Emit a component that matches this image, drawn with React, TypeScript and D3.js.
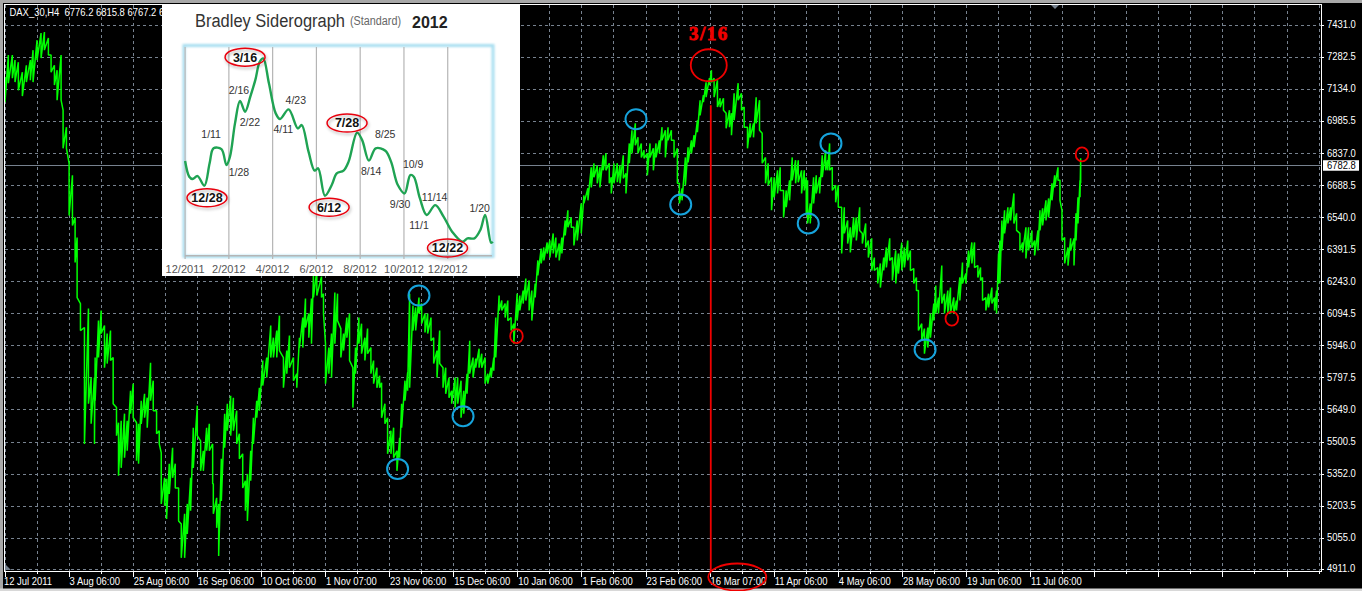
import * as d3 from 'd3';

const WIDTH = 1362;
const HEIGHT = 591;

// MT4 chart: bar number since 12 Jul 2011, high and low of each sampled stretch
const bars = [
  0, 5, 11, 15, 20, 26, 32, 38, 42, 48, 54, 59, 65, 69, 74, 78, 84, 87, 92, 96,
  101, 105, 108, 113, 119, 125, 129, 134, 135, 140, 144, 149, 153, 158, 162, 167, 170, 174, 179, 183,
  188, 192, 197, 200, 204, 209, 213, 218, 222, 227, 231, 234, 239, 242, 246, 251, 255, 260, 264, 269,
  273, 278, 282, 288, 293, 297, 302, 306, 311, 312, 317, 320, 324, 329, 333, 338, 342, 347, 351, 356,
  360, 363, 368, 372, 377, 381, 386, 392, 398, 402, 407, 411, 417, 422, 426, 432, 437, 441, 446, 450,
  455, 459, 462, 467, 474, 477, 480, 485, 489, 494, 498, 503, 507, 512, 516, 521, 525, 530, 534, 539,
  543, 548, 552, 557, 561, 564, 569, 573, 578, 582, 587, 591, 594, 599, 603, 606, 611, 615, 620, 624,
  629, 633, 638, 642, 647, 651, 656, 660, 665, 669, 674, 678, 683, 687, 692, 696, 701, 705, 710, 714,
  719, 723, 728, 732, 735, 740, 744, 749, 753, 758, 762, 767, 771, 776, 780, 785, 789, 794, 798, 803,
  807, 812, 816, 821, 825, 830, 834, 839, 843, 848, 852, 857, 863, 867, 873, 878, 882, 887, 891, 896,
  900, 905, 908, 912, 917, 921, 926, 930, 935, 939, 944, 948, 953, 957, 962, 966, 971, 975, 980, 984,
  989, 993, 998, 1002, 1007, 1010, 1014, 1019, 1023, 1028, 1032, 1037, 1041, 1046, 1050, 1055, 1058, 1062, 1067, 1071,
  1076, 1080, 1085, 1088, 1092, 1098, 1103, 1107, 1112, 1116, 1121, 1125, 1130, 1134, 1139, 1143, 1148, 1152, 1157, 1161,
  1166, 1170, 1175, 1179, 1184, 1188, 1193, 1197, 1200, 1202, 1206, 1211, 1215, 1220, 1224, 1229, 1232, 1235, 1239, 1244,
  1248, 1253, 1257, 1262, 1266, 1271, 1275, 1280, 1284, 1289, 1293, 1298, 1302, 1307, 1311, 1316, 1320, 1325, 1329, 1334,
  1338, 1343, 1347, 1352, 1356, 1361, 1365, 1368, 1373, 1377, 1382, 1386, 1391, 1394, 1398, 1403, 1407, 1412, 1416, 1421,
  1425, 1430, 1434, 1439, 1443, 1448, 1452, 1457, 1461, 1464, 1469, 1473, 1478, 1482, 1485, 1488, 1490, 1493, 1497, 1502,
  1506, 1511, 1515, 1520, 1524, 1529, 1533, 1538, 1542, 1547, 1550, 1554, 1559, 1563, 1568, 1572, 1577, 1580, 1583, 1587,
  1592, 1596, 1601, 1604, 1607, 1610, 1611,
];

const highs = [
  7191, 7293, 7293, 7270, 7260, 7214, 7246, 7270, 7316, 7362, 7395, 7400, 7372, 7293, 7246, 7223, 7293, 7038, 6959, 6792,
  6736, 6541, 6448, 6142, 6031, 6119, 5799, 5799, 5892, 6063, 6110, 6040, 6003, 6017, 5892, 5660, 5590, 5599, 5632, 5599,
  5738, 5771, 5590, 5585, 5692, 5724, 5706, 5868, 5785, 5646, 5553, 5451, 5335, 5330, 5400, 5474, 5400, 5288, 5121, 5168,
  5214, 5335, 5567, 5669, 5506, 5460, 5567, 5585, 5492, 5307, 5242, 5214, 5423, 5632, 5678, 5715, 5706, 5646, 5539, 5446,
  5321, 5353, 5460, 5613, 5692, 5752, 5878, 5892, 6040, 5984, 6017, 6086, 5892, 5924, 5994, 5892, 5817, 5984, 6077, 6165,
  6096, 6165, 6281, 6295, 6267, 6188, 5956, 5938, 6003, 6193, 6188, 6026, 6003, 6077, 6096, 5845, 5938, 6077, 6049, 5984,
  6026, 5938, 5878, 5845, 5808, 5775, 5678, 5613, 5553, 5567, 5460, 5520, 5678, 5785, 5822, 6188, 6133, 6124, 6170, 6142,
  6096, 6096, 6077, 5984, 5924, 6017, 5845, 5845, 5799, 5738, 5799, 5799, 5785, 5738, 5817, 5970, 5892, 5887, 5933, 5910,
  5892, 5817, 5845, 5892, 6077, 6179, 6156, 6142, 6156, 6077, 6049, 6188, 6179, 6202, 6258, 6249, 6202, 6235, 6342, 6397,
  6402, 6425, 6434, 6467, 6448, 6420, 6448, 6527, 6574, 6541, 6495, 6527, 6606, 6643, 6676, 6773, 6792, 6782, 6773, 6829,
  6838, 6792, 6727, 6792, 6792, 6782, 6829, 6745, 6884, 6945, 6977, 6912, 6884, 6852, 6838, 6884, 6861, 6884, 6898, 6959,
  6945, 6959, 6945, 6898, 6861, 6699, 6676, 6819, 6866, 6898, 6922, 6991, 7084, 7107, 7167, 7186, 7223, 7186, 7177, 7093,
  7093, 7024, 7038, 7024, 7116, 7163, 7116, 7052, 6959, 6977, 6977, 7098, 7084, 6931, 6819, 6792, 6727, 6727, 6759, 6773,
  6666, 6666, 6713, 6819, 6806, 6806, 6759, 6759, 6727, 6713, 6606, 6727, 6736, 6727, 6829, 6852, 6806, 6884, 6773, 6690,
  6690, 6588, 6588, 6527, 6495, 6541, 6541, 6588, 6467, 6513, 6434, 6444, 6355, 6309, 6328, 6355, 6402, 6444, 6355, 6388,
  6374, 6425, 6402, 6434, 6388, 6304, 6263, 6202, 6049, 6026, 6031, 6096, 6142, 6226, 6170, 6318, 6188, 6202, 6216, 6170,
  6156, 6263, 6332, 6281, 6388, 6425, 6425, 6318, 6309, 6263, 6170, 6188, 6216, 6170, 6202, 6374, 6434, 6527, 6574, 6588,
  6588, 6652, 6560, 6467, 6425, 6495, 6495, 6481, 6434, 6481, 6574, 6583, 6620, 6629, 6699, 6736, 6773, 6713, 6574, 6448,
  6402, 6444, 6444, 6560, 6634, 6713, 6815,
];

const lows = [
  7075, 7163, 7186, 7168, 7130, 7103, 7168, 7177, 7168, 7270, 7279, 7316, 7293, 7214, 7154, 7084, 7084, 6861, 6861, 6550,
  6504, 6332, 6170, 6017, 5492, 5678, 5585, 5492, 5692, 5892, 6003, 5845, 5864, 5878, 5678, 5530, 5344, 5381, 5428, 5460,
  5632, 5613, 5414, 5400, 5585, 5613, 5567, 5692, 5646, 5539, 5492, 5214, 5205, 5144, 5260, 5335, 5288, 5135, 4964, 4964,
  5075, 5182, 5381, 5530, 5367, 5367, 5460, 5460, 5307, 5168, 5103, 4973, 5228, 5474, 5553, 5530, 5553, 5492, 5423, 5288,
  5182, 5135, 5321, 5492, 5613, 5646, 5762, 5799, 5892, 5892, 5892, 5924, 5752, 5817, 5845, 5785, 5752, 5938, 5938, 6031,
  5984, 5956, 6170, 6179, 6170, 6096, 5771, 5817, 5799, 5956, 6063, 5892, 5924, 5984, 5878, 5660, 5817, 5956, 5910, 5878,
  5910, 5817, 5771, 5752, 5752, 5613, 5585, 5446, 5446, 5428, 5367, 5428, 5567, 5692, 5738, 5752, 6017, 6017, 6096, 6049,
  6008, 6003, 5970, 5864, 5799, 5864, 5752, 5724, 5706, 5678, 5660, 5678, 5613, 5632, 5724, 5817, 5799, 5845, 5845, 5845,
  5771, 5771, 5799, 5831, 5892, 6110, 6110, 6077, 6063, 6017, 5956, 6063, 6110, 6142, 6156, 6110, 6063, 6170, 6272, 6328,
  6342, 6374, 6355, 6374, 6355, 6342, 6374, 6458, 6495, 6495, 6411, 6434, 6467, 6606, 6620, 6680, 6727, 6699, 6680, 6759,
  6759, 6699, 6652, 6699, 6704, 6699, 6722, 6652, 6792, 6838, 6875, 6838, 6819, 6815, 6736, 6819, 6759, 6819, 6838, 6898,
  6819, 6898, 6898, 6819, 6699, 6606, 6620, 6690, 6796, 6838, 6866, 6936, 7014, 7075, 7098, 7154, 7167, 7098, 7052, 7052,
  7038, 6954, 6959, 6922, 6991, 7084, 7038, 6959, 6861, 6912, 6912, 6977, 6945, 6792, 6699, 6690, 6574, 6634, 6652, 6666,
  6541, 6588, 6620, 6713, 6699, 6704, 6652, 6666, 6560, 6513, 6513, 6606, 6652, 6652, 6727, 6759, 6759, 6759, 6666, 6611,
  6588, 6374, 6467, 6420, 6379, 6448, 6434, 6481, 6420, 6402, 6355, 6295, 6295, 6235, 6216, 6295, 6309, 6342, 6249, 6235,
  6281, 6295, 6309, 6342, 6295, 6235, 6202, 6017, 5970, 5910, 5938, 5984, 6063, 6096, 6096, 6142, 6096, 6096, 6096, 6096,
  6110, 6156, 6235, 6235, 6309, 6328, 6309, 6263, 6249, 6156, 6110, 6124, 6142, 6110, 6096, 6235, 6235, 6388, 6467, 6513,
  6527, 6513, 6481, 6388, 6379, 6351, 6388, 6402, 6365, 6388, 6481, 6504, 6527, 6541, 6620, 6680, 6713, 6620, 6434, 6328,
  6318, 6388, 6318, 6434, 6513, 6634, 6699,
];

const priceTicks = [7431, 7282.5, 7134, 6985.5, 6837, 6688.5, 6540, 6391.5, 6243, 6094.5, 5946, 5797.5, 5649, 5500.5, 5352, 5203.5, 5055, 4911];
const timeLabels = [
  '12 Jul 2011', '3 Aug 06:00', '25 Aug 06:00', '16 Sep 06:00', '10 Oct 06:00', '1 Nov 07:00', '23 Nov 06:00', '15 Dec 06:00', '10 Jan 06:00',
  '1 Feb 06:00', '23 Feb 06:00', '16 Mar 07:00', '11 Apr 06:00', '4 May 06:00', '28 May 06:00', '19 Jun 06:00', '11 Jul 06:00',
];
const BARS_PER_LABEL = 96;
const lastPrice = 6782.8;
const header = 'DAX_30,H4  6776.2 6815.8 6767.2 6782.8';

// hand drawn turning points, [bar, price]
const blueCircles = [[620, 6179], [588, 5376], [686, 5620], [945, 6996], [1012, 6601], [1203, 6513], [1237, 6884], [1378, 5929]];
const redCircles = [[766, 5991], [1418, 6072], [1613, 6833]];
const peakBar = 1057;
const peakTopPrice = 7061;

// inset, months since 12/2011 and siderograph value
const sideroMonths = [
  0, 0.19, 0.34, 0.57, 0.88, 1.12, 1.3, 1.66, 1.89, 2.05, 2.28, 2.51, 2.74, 2.98, 3.21, 3.41, 3.57, 3.83, 4.14, 4.34, 4.73, 5.15, 5.33, 5.64, 5.92, 6.08,
  6.39, 6.7, 6.93, 7.24, 7.47, 7.86, 8.09, 8.4, 8.71, 9.15, 9.41, 9.72, 10.03, 10.29, 10.45, 10.73, 11.04, 11.43, 11.81, 12.2, 12.67, 12.9, 13.22, 13.49, 13.71, 13.98, 14.06,
];
const sideroValues = [
  45.3, 37.8, 36.7, 38.1, 33.5, 44.2, 51.4, 51, 43.4, 47.4, 63.3, 74, 68.9, 76.1, 84.1, 92.8, 94.4, 82.5, 68.1, 65.4, 70, 60.9, 62.5, 49.8, 40.7, 41.8,
  28.7, 33.8, 39.4, 40.7, 45, 58.9, 55.3, 45.5, 51.4, 50.2, 45, 33.8, 29.8, 38.6, 37.8, 27.4, 19.5, 24.2, 18.7, 11.5, 6.7, 8.3, 8.3, 12.3, 19.5, 6.2, 6.7,
];
const sideroAxis = ['12/2011', '2/2012', '4/2012', '6/2012', '8/2012', '10/2012', '12/2012'];
// [label, month, value] of the small dates next to the curve
const sideroNotes: [string, number, number][] = [
  ['1/11', 1.19, 58], ['2/16', 2.46, 79.5], ['2/22', 2.96, 64], ['1/28', 2.46, 40], ['4/23', 5.06, 74.7], ['4/11', 4.49, 60.6],
  ['8/25', 9.14, 58], ['8/14', 8.5, 40.5], ['10/9', 10.42, 44], ['9/30', 9.82, 24.8], ['11/14', 11.4, 28.3], ['11/1', 10.69, 14.7], ['1/20', 13.46, 23],
];
const sideroRinged: [string, number, number][] = [
  ['3/16', 2.74, 95], ['12/28', 1.0, 27.7], ['7/28', 7.4, 63.5], ['6/12', 6.58, 23.2], ['12/22', 11.99, 3.7],
];

const x = d3.scaleLinear().domain([0, BARS_PER_LABEL]).range([5, 69.1]);
const y = d3.scaleLinear().domain([4911, 7431]).range([569.3, 25.3]);

const zigzag = d3.line<[number, number]>()
  .x(d => x(d[0]))
  .y(d => y(d[1]));

const insetX = d3.scaleLinear().domain([0, 14]).range([185.1, 491.5]);
const insetY = d3.scaleLinear().domain([0, 100]).range([255.7, 46.7]);
const insetLine = d3.line<number>()
  .x((_, i) => insetX(sideroMonths[i]))
  .y(d => insetY(d))
  .curve(d3.curveCatmullRom);

const uiFont = '"Liberation Sans", Arial, sans-serif';
const gridColor = '#77828f';

// the terminal font is narrower than Liberation Sans
const narrow = (px: number, py: number) => `translate(${px},${py}) scale(0.9,1)`;

export default function App() {
  const pricePath: [number, number][] = [];
  bars.forEach((b, i) => {
    pricePath.push([b, highs[i]], [b, lows[i]]);
  });

  const gridBars = d3.range(0, 1980, BARS_PER_LABEL / 2);

  return (
    <svg
      width={WIDTH}
      height={HEIGHT}
      style={{ position: 'absolute', left: 0, top: 0, background: '#000', display: 'block' }}
    >
      <defs>
        <filter id="soft" x="-5%" y="-5%" width="110%" height="110%">
          <feGaussianBlur stdDeviation="0.9" />
        </filter>
        <filter id="ring-shadow" x="-30%" y="-30%" width="160%" height="180%">
          <feDropShadow dx="1" dy="2" stdDeviation="1.5" floodColor="#000" floodOpacity="0.3" />
        </filter>
      </defs>

      {/* window frame */}
      <rect x={0} y={0} width={WIDTH} height={3} fill="#a8a8a8" />
      <rect x={0} y={0} width={3} height={HEIGHT} fill="#a8a8a8" />
      <rect x={0} y={588.5} width={WIDTH} height={2.5} fill="#d8d8d8" />

      {/* grid */}
      {priceTicks.map(t => (
        <line key={t} x1={5} x2={1321} y1={y(t)} y2={y(t)} stroke={gridColor} strokeDasharray="3 3" shapeRendering="crispEdges" />
      ))}
      {gridBars.map(b => (
        <line key={b} x1={x(b)} x2={x(b)} y1={5} y2={571} stroke={gridColor} strokeDasharray="3 3" shapeRendering="crispEdges" />
      ))}
      <line x1={5} x2={1321} y1={y(lastPrice)} y2={y(lastPrice)} stroke="#77828f" shapeRendering="crispEdges" />

      {/* price */}
      <path d={zigzag(pricePath) ?? ''} fill="none" stroke="#00ff00" strokeWidth={1.5} strokeLinejoin="bevel" />

      {/* plot border */}
      <path d="M4.5 571.5V4.5H1321V571.5H4.5" fill="none" stroke="#fff" shapeRendering="crispEdges" />
      <path d="M5 570L5 564L11 570Z" fill="#77828f" />
      <path d="M1051 5H1059L1055 9Z" fill="#77828f" />

      {/* axes */}
      {gridBars.map(b => (
        <line key={b} x1={x(b)} x2={x(b)} y1={571} y2={b % BARS_PER_LABEL === 0 ? 577 : 574} stroke="#fff" shapeRendering="crispEdges" />
      ))}
      {timeLabels.map((label, i) => (
        <text key={label} transform={narrow(x(i * BARS_PER_LABEL) + (i === 0 ? -1 : 0.5), 585)} fill="#fff" fontFamily={uiFont} fontSize={10.5}>
          {label}
        </text>
      ))}
      {priceTicks.map(t => (
        <g key={t}>
          <line x1={1321} x2={1324} y1={y(t)} y2={y(t)} stroke="#fff" shapeRendering="crispEdges" />
          <text transform={narrow(1327, y(t) + 3)} fill="#fff" fontFamily={uiFont} fontSize={10.5}>
            {t.toFixed(1)}
          </text>
        </g>
      ))}
      <rect x={1323} y={y(lastPrice) - 5} width={36} height={10.5} fill="#fff" />
      <text transform={narrow(1327, y(lastPrice) + 3.5)} fill="#000" fontFamily={uiFont} fontSize={10.5}>
        {lastPrice.toFixed(1)}
      </text>
      <text transform={narrow(9.5, 16)} fill="#fff" fontFamily={uiFont} fontSize={10.5} xmlSpace="preserve">
        {header}
      </text>

      {/* turning points */}
      {blueCircles.map(([b, p]) => (
        <ellipse key={b} cx={x(b)} cy={y(p)} rx={10.5} ry={10} fill="none" stroke="#16a3dc" strokeWidth={2} />
      ))}
      {redCircles.map(([b, p]) => (
        <ellipse key={b} cx={x(b)} cy={y(p)} rx={6.3} ry={7} fill="none" stroke="#f00000" strokeWidth={1.8} />
      ))}
      <line x1={x(peakBar)} x2={x(peakBar)} y1={y(peakTopPrice)} y2={572} stroke="#f00000" strokeWidth={1.8} />
      <ellipse cx={x(peakBar) - 2} cy={y(7246)} rx={18} ry={16} fill="none" stroke="#f00000" strokeWidth={1.8} />
      <ellipse cx={x(peakBar) + 26.5} cy={577} rx={29} ry={13.5} fill="none" stroke="#f00000" strokeWidth={1.8} />
      <text
        x={x(peakBar) - 2}
        y={y(7364)}
        fill="#f00000"
        fontFamily='"Liberation Serif", serif'
        fontWeight="bold"
        fontSize={19}
        textAnchor="middle"
        stroke="#f00000"
        strokeWidth={0.8}
        letterSpacing={1.5}
      >
        3/16
      </text>

      {/* inset */}
      <rect x={162} y={5} width={358} height={271} fill="#fff" />
      <text x={195} y={27} fontFamily={uiFont} fontSize={18} fill="#333" textLength={150} lengthAdjust="spacingAndGlyphs">
        Bradley Siderograph
      </text>
      <text x={350} y={25} fontFamily={uiFont} fontSize={12} fill="#666" textLength={51} lengthAdjust="spacingAndGlyphs">
        (Standard)
      </text>
      <text x={412} y={28} fontFamily={uiFont} fontSize={16} fontWeight="bold" fill="#222">
        2012
      </text>
      <rect x={184} y={45.5} width={309} height={211} fill="none" stroke="#a8def0" strokeWidth={3} filter="url(#soft)" />
      {sideroAxis.map((label, i) => (
        <g key={label}>
          <line x1={insetX(i * 2)} x2={insetX(i * 2)} y1={47} y2={259} stroke="#b5b5b5" strokeWidth={1.2} />
          <text x={insetX(i * 2)} y={273} textAnchor="middle" fontFamily={uiFont} fontSize={11} fill="#555">
            {label}
          </text>
        </g>
      ))}
      <line x1={185} x2={492} y1={255.7} y2={255.7} stroke="#b5b5b5" strokeWidth={1.5} />
      <path
        d={insetLine(sideroValues) ?? ''}
        fill="none"
        stroke="#1fa353"
        strokeWidth={2.4}
      />
      {sideroNotes.map(([label, m, v]) => (
        <text key={label} x={insetX(m)} y={insetY(v) + 4} textAnchor="middle" fontFamily={uiFont} fontSize={10.5} fill="#333">
          {label}
        </text>
      ))}
      {sideroRinged.map(([label, m, v]) => (
        <g key={label}>
          <ellipse cx={insetX(m)} cy={insetY(v)} rx={20} ry={9} fill="#fff" fillOpacity={0} stroke="#e8000d" strokeWidth={1.5} filter="url(#ring-shadow)" />
          <text x={insetX(m)} y={insetY(v) + 4.5} textAnchor="middle" fontFamily={uiFont} fontSize={12.5} fontWeight="bold" fill="#111">
            {label}
          </text>
        </g>
      ))}
    </svg>
  );
}
